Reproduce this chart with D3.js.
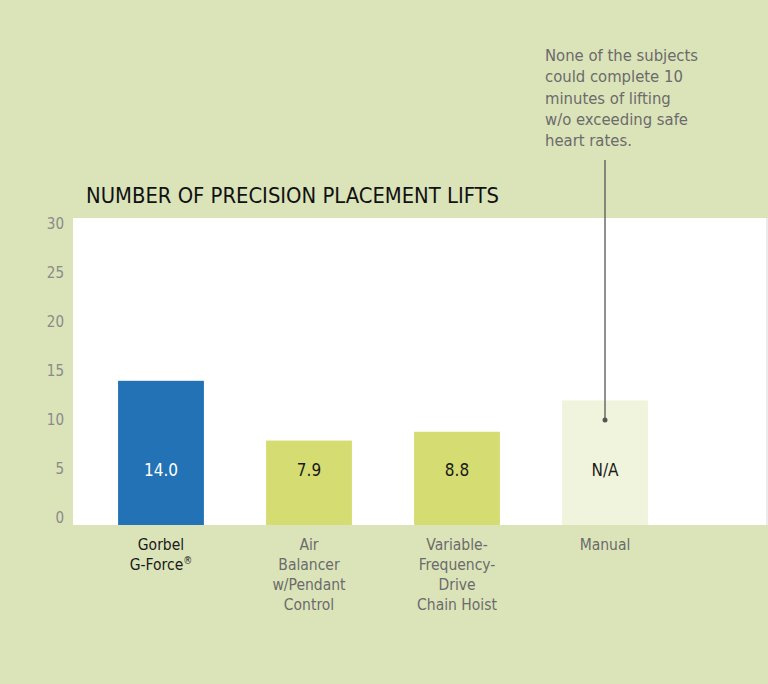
<!DOCTYPE html>
<html>
<head>
<meta charset="utf-8">
<script src="https://cdn.jsdelivr.net/npm/d3@7"></script>
<style>
  body { margin: 0; background: #dbe3b9; }
  svg { display: block; }
</style>
</head>
<body>
<div id="chart"></div>
<script>
// Chart data
const categories = ["Gorbel G-Force", "Air Balancer", "VFD Chain Hoist", "Manual"];
const values = [14.0, 7.9, 8.8, 12.0];   // manual bar is a placeholder height
const valueLabels = ["14.0", "7.9", "8.8", "N/A"];
const categoryLines = [
    ["Gorbel", "G-Force"],
    ["Air", "Balancer", "w/Pendant", "Control"],
    ["Variable-", "Frequency-", "Drive", "Chain Hoist"],
    ["Manual"]
];
const barColors = ["#2372b5", "#d4dc72", "#d4dc72", "#f1f4dc"];
const labelColors = ["#ffffff", "#1a1a1a", "#1a1a1a", "#1a1a1a"];
const yTicks = [0, 5, 10, 15, 20, 25, 30];
const noteLines = [
    "None of the subjects",
    "could complete 10",
    "minutes of lifting",
    "w/o exceeding safe",
    "heart rates."
];

const width = 768;
const height = 684;
const font = "'Liberation Sans Narrow', 'DejaVu Sans Condensed', 'Roboto', sans-serif";

const svg = d3.select("#chart")
    .append("svg")
    .attr("width", width)
    .attr("height", height)
    .style("font-family", font);

// Background
svg.append("rect")
    .attr("width", width)
    .attr("height", height)
    .attr("fill", "#dbe3b9");

// White plot panel
const panel = { left: 73, top: 218, right: 768, bottom: 525 };
svg.append("rect")
    .attr("x", panel.left)
    .attr("y", panel.top)
    .attr("width", panel.right - panel.left)
    .attr("height", panel.bottom - panel.top)
    .attr("fill", "#ffffff");

svg.append("line")
    .attr("x1", panel.right - 1).attr("x2", panel.right - 1)
    .attr("y1", panel.top).attr("y2", panel.bottom)
    .attr("stroke", "#d8d8d8");

// Scales
const x = d3.scaleBand()
    .domain(categories)
    .range([87, 679])
    .paddingInner(0.42)
    .paddingOuter(0.21);

const y = d3.scaleLinear()
    .domain([0, 30])
    .range([518, 224]);

// Y axis (labels only)
const yAxis = svg.append("g")
    .attr("transform", "translate(64,0)")
    .call(d3.axisLeft(y).tickValues(yTicks).tickSize(0).tickPadding(0));
yAxis.select(".domain").remove();
yAxis.selectAll("text")
    .attr("fill", "#8a8a8a")
    .style("font-family", font)
    .style("font-size", "15px");

// Title
svg.append("text")
    .attr("x", 86)
    .attr("y", 203)
    .attr("fill", "#111")
    .style("font-size", "21.8px")
    .text("NUMBER OF PRECISION PLACEMENT LIFTS");

// Bars
svg.selectAll(".bar")
    .data(categories)
    .enter()
    .append("rect")
    .attr("class", "bar")
    .attr("x", d => x(d))
    .attr("y", (d, i) => y(values[i]))
    .attr("width", x.bandwidth())
    .attr("height", (d, i) => panel.bottom - y(values[i]))
    .attr("fill", (d, i) => barColors[i]);

// Value labels inside bars
svg.selectAll(".val")
    .data(categories)
    .enter()
    .append("text")
    .attr("class", "val")
    .attr("x", d => x(d) + x.bandwidth() / 2)
    .attr("y", 476)
    .attr("text-anchor", "middle")
    .attr("fill", (d, i) => labelColors[i])
    .style("font-size", "17px")
    .text((d, i) => valueLabels[i]);

// Category labels
categories.forEach((c, i) => {
    const t = svg.append("text")
        .attr("x", x(c) + x.bandwidth() / 2)
        .attr("y", 550)
        .attr("text-anchor", "middle")
        .attr("fill", i === 0 ? "#1a1a1a" : "#6b6b6b")
        .style("font-size", "15.5px");
    categoryLines[i].forEach((line, j) => {
        t.append("tspan")
            .attr("x", x(c) + x.bandwidth() / 2)
            .attr("dy", j === 0 ? 0 : 20)
            .text(line);
        if (i === 0 && j === 1) {
            t.append("tspan")
                .attr("dy", -6)
                .style("font-size", "10px")
                .text("®");
        }
    });
});

// Annotation for the manual bar
const manualX = x("Manual") + x.bandwidth() / 2;
svg.append("line")
    .attr("x1", manualX).attr("x2", manualX)
    .attr("y1", 160).attr("y2", y(10))
    .attr("stroke", "#555")
    .attr("stroke-width", 1.3);
svg.append("circle")
    .attr("cx", manualX)
    .attr("cy", y(10))
    .attr("r", 2.5)
    .attr("fill", "#555");

svg.append("text")
    .attr("x", 545)
    .attr("y", 61)
    .attr("fill", "#6b6b6b")
    .style("font-size", "16.5px")
    .selectAll("tspan")
    .data(noteLines)
    .enter()
    .append("tspan")
    .attr("x", 545)
    .attr("dy", (d, i) => i === 0 ? 0 : 21.3)
    .text(d => d);
</script>
</body>
</html>
